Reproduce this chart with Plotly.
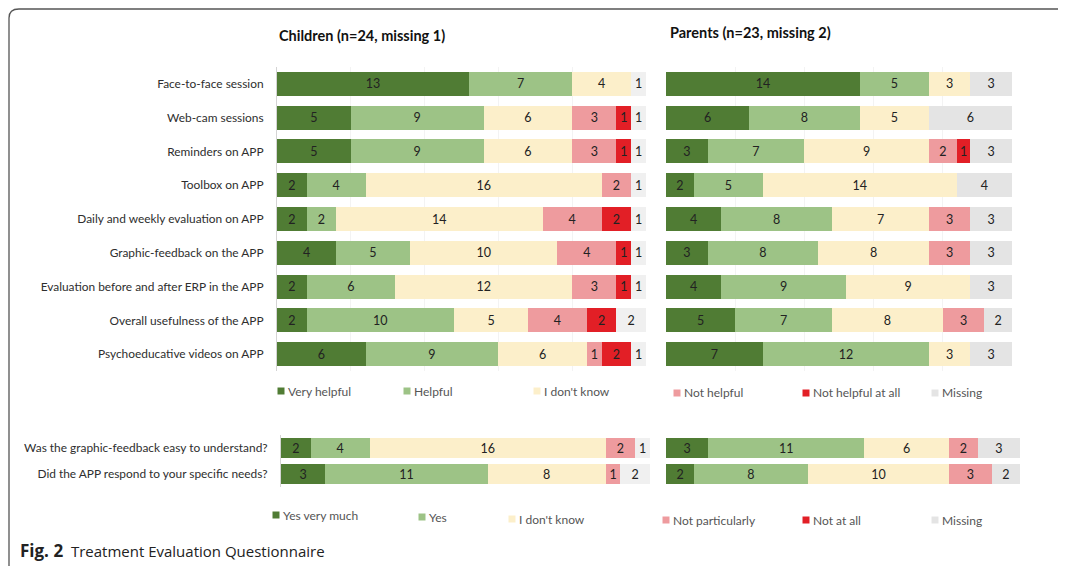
import plotly.graph_objects as go

# ---------------- DATA ----------------
top_categories = [
    "Face-to-face session",
    "Web-cam sessions",
    "Reminders on APP",
    "Toolbox on APP",
    "Daily and weekly evaluation on APP",
    "Graphic-feedback on the APP",
    "Evaluation before and after ERP in the APP",
    "Overall usefulness of the APP",
    "Psychoeducative videos on APP",
]
bottom_categories = [
    "Was the graphic-feedback easy to understand?",
    "Did the APP respond to your specific needs?",
]
top_series = ["Very helpful", "Helpful", "I don't know", "Not helpful", "Not helpful at all", "Missing"]
bottom_series = ["Yes very much", "Yes", "I don't know", "Not particularly", "Not at all", "Missing"]

# Children, top section (one list per series, in category order)
children_very_helpful = [13, 5, 5, 2, 2, 4, 2, 2, 6]
children_helpful = [7, 9, 9, 4, 2, 5, 6, 10, 9]
children_dont_know = [4, 6, 6, 16, 14, 10, 12, 5, 6]
children_not_helpful = [0, 3, 3, 2, 4, 4, 3, 4, 1]
children_not_helpful_all = [0, 1, 1, 0, 2, 1, 1, 2, 2]
children_missing = [1, 1, 1, 1, 1, 1, 1, 2, 1]

# Parents, top section
parents_very_helpful = [14, 6, 3, 2, 4, 3, 4, 5, 7]
parents_helpful = [5, 8, 7, 5, 8, 8, 9, 7, 12]
parents_dont_know = [3, 5, 9, 14, 7, 8, 9, 8, 3]
parents_not_helpful = [0, 0, 2, 0, 3, 3, 0, 3, 0]
parents_not_helpful_all = [0, 0, 1, 0, 0, 0, 0, 0, 0]
parents_missing = [3, 6, 3, 4, 3, 3, 3, 2, 3]

# Bottom section
children_yes_very_much = [2, 3]
children_yes = [4, 11]
children_b_dont_know = [16, 8]
children_not_particularly = [2, 1]
children_not_at_all = [0, 0]
children_b_missing = [1, 2]

parents_yes_very_much = [3, 2]
parents_yes = [11, 8]
parents_b_dont_know = [6, 10]
parents_not_particularly = [2, 3]
parents_not_at_all = [0, 0]
parents_b_missing = [3, 2]

# ---------------- STYLE ----------------
W, H = 1066, 566
OFF = 8  # page body margin offset
colors = ["#507C34", "#9DC386", "#FCEFCA", "#EE9B9E", "#E21F26"]
miss_child = "#F0F0F0"
miss_parent = "#E4E4E4"
FONT = "Lato"

def px_x(p):
    return (p - OFF) / W

def px_y(p):
    return 1 - (p - OFF) / H

fig = go.Figure()

def add_panel(series_vals, cats, names, xa, ya, miss_color, width):
    cols = colors + [miss_color]
    for vals, name, c in zip(series_vals, names, cols):
        fig.add_trace(go.Bar(
            y=cats, x=vals, orientation="h", name=name,
            marker=dict(color=c, line=dict(width=0)),
            text=[str(v) if v else "" for v in vals],
            textposition="inside", insidetextanchor="middle", textangle=0,
            textfont=dict(family=FONT, size=12.5, color="#222222"),
            width=width, xaxis=xa, yaxis=ya, showlegend=False,
            hoverinfo="skip",
        ))

add_panel([children_very_helpful, children_helpful, children_dont_know,
           children_not_helpful, children_not_helpful_all, children_missing],
          top_categories, top_series, "x", "y", miss_child, 0.71)
add_panel([parents_very_helpful, parents_helpful, parents_dont_know,
           parents_not_helpful, parents_not_helpful_all, parents_missing],
          top_categories, top_series, "x2", "y2", miss_parent, 0.71)
add_panel([children_yes_very_much, children_yes, children_b_dont_know,
           children_not_particularly, children_not_at_all, children_b_missing],
          bottom_categories, bottom_series, "x3", "y3", miss_child, 0.77)
add_panel([parents_yes_very_much, parents_yes, parents_b_dont_know,
           parents_not_particularly, parents_not_at_all, parents_b_missing],
          bottom_categories, bottom_series, "x4", "y4", miss_parent, 0.77)

top_dom = [px_y(371), px_y(67)]
bot_dom = [px_y(487), px_y(435)]

def xax(dom, grid):
    return dict(domain=dom, range=[0, 25], showticklabels=False, ticks="",
                showgrid=grid, gridcolor="#F3F3F3", gridwidth=1, dtick=5,
                zeroline=False, showline=False, fixedrange=True)

def yax(dom, anchor, n, labels, line):
    return dict(domain=dom, anchor=anchor, type="category",
                range=[n - 0.5, -0.5], showticklabels=labels, ticks="",
                showgrid=False, zeroline=False, showline=line,
                linecolor="#D4D4D4", linewidth=1,
                tickfont=dict(family=FONT, size=11.9, color="#2E2E2E"),
                ticklabelstandoff=10, fixedrange=True)

fig.update_layout(
    width=W, height=H, barmode="stack",
    margin=dict(l=0, r=0, t=0, b=0),
    paper_bgcolor="white", plot_bgcolor="rgba(0,0,0,0)",
    uniformtext=dict(minsize=12, mode="show"),
    xaxis=dict(xax([px_x(277), px_x(646)], True), anchor="y"),
    yaxis=yax(top_dom, "x", len(top_categories), True, True),
    xaxis2=dict(xax([px_x(666), px_x(1012)], True), anchor="y2"),
    yaxis2=yax(top_dom, "x2", len(top_categories), False, False),
    xaxis3=dict(xax([px_x(281), px_x(650)], False), anchor="y3"),
    yaxis3=yax(bot_dom, "x3", len(bottom_categories), True, True),
    xaxis4=dict(xax([px_x(666), px_x(1020)], False), anchor="y4"),
    yaxis4=yax(bot_dom, "x4", len(bottom_categories), False, False),
)

annotations = []
shapes = []

# Panel titles
annotations.append(dict(x=px_x(277), y=px_y(35), xref="paper", yref="paper",
                        text="<b>Children (n=24, missing 1)</b>", showarrow=False,
                        xanchor="left", yanchor="middle",
                        font=dict(family=FONT, size=14.5, color="#111111")))
annotations.append(dict(x=px_x(668), y=px_y(33), xref="paper", yref="paper",
                        text="<b>Parents (n=23, missing 2)</b>", showarrow=False,
                        xanchor="left", yanchor="middle",
                        font=dict(family=FONT, size=14.5, color="#111111")))

# Legends
top_leg_pos = [(281, 391), (407, 391), (537, 391), (677, 393), (806, 393), (935, 393)]
bot_leg_pos = [(276, 515), (422, 517), (512, 519), (666, 520), (806, 520), (935, 520)]
leg_colors = colors + [miss_parent]

def add_legend(names, positions):
    for name, (lx, ly), c in zip(names, positions, leg_colors):
        shapes.append(dict(type="rect", xref="paper", yref="paper",
                           x0=px_x(lx - 3.5), x1=px_x(lx + 3.5),
                           y0=px_y(ly + 3.5), y1=px_y(ly - 3.5),
                           fillcolor=c, line=dict(width=0)))
        annotations.append(dict(x=px_x(lx + 5), y=px_y(ly), xref="paper", yref="paper",
                                text=name, showarrow=False, xanchor="left", yanchor="middle",
                                font=dict(family=FONT, size=12, color="#555555")))

add_legend(top_series, top_leg_pos)
add_legend(bottom_series, bot_leg_pos)

# Caption
annotations.append(dict(x=px_x(18), y=px_y(550), xref="paper", yref="paper",
                        text="<b><span style='font-size:17px'>Fig. 2</span></b>  Treatment Evaluation Questionnaire",
                        showarrow=False, xanchor="left", yanchor="middle",
                        font=dict(family="Open Sans", size=15, color="#222222")))

# Frame (top edge kept just inside the drawable area)
path = (f"M {px_x(9)},{px_y(574)} L {px_x(9)},{px_y(18)} "
        f"Q {px_x(9)},{px_y(9)} {px_x(19)},{px_y(9)} "
        f"L {px_x(1058)},{px_y(9)} L {px_x(1063)},{px_y(13)}")
shapes.append(dict(type="path", xref="paper", yref="paper", path=path,
                   line=dict(color="#555555", width=1.3)))

fig.update_layout(annotations=annotations, shapes=shapes)

fig.write_html("out.html")
